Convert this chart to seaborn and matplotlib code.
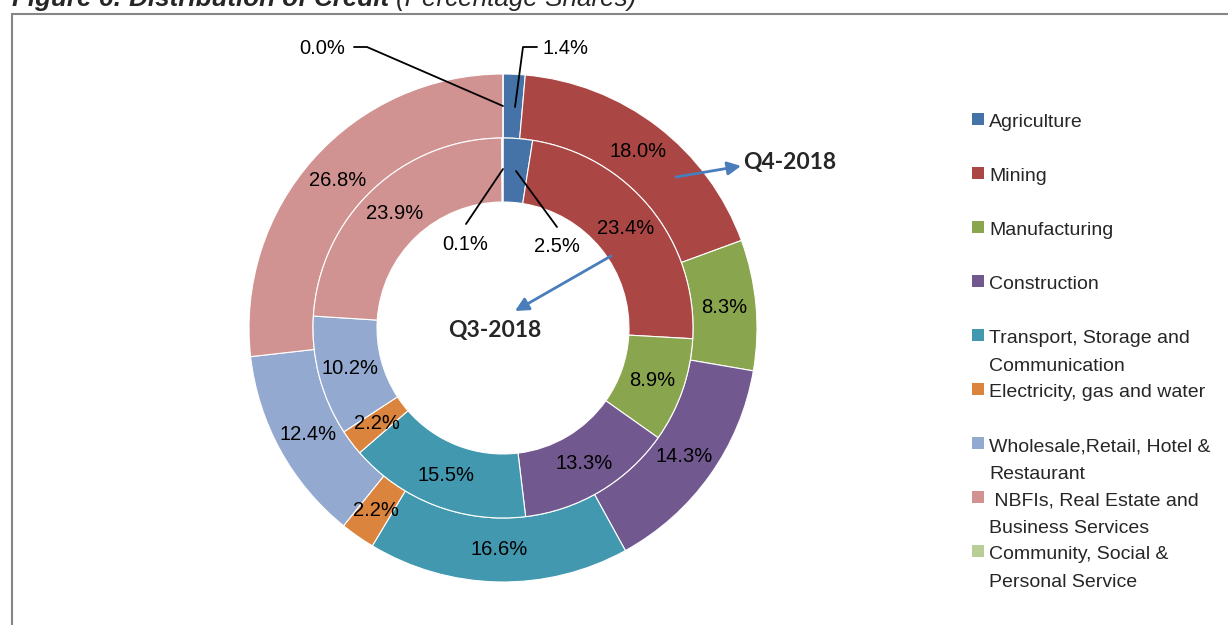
import numpy as np
import seaborn as sns
import matplotlib.pyplot as plt
from matplotlib.patches import Rectangle
from matplotlib.lines import Line2D

# data: credit shares by sector (%)
sectors = ['Agriculture', 'Mining', 'Manufacturing', 'Construction',
           'Transport, Storage and\nCommunication', 'Electricity, gas and water',
           'Wholesale,Retail, Hotel &\nRestaurant', ' NBFIs, Real Estate and\nBusiness Services',
           'Community, Social &\nPersonal Service']
q4_2018 = [1.4, 18.0, 8.3, 14.3, 16.6, 2.2, 12.4, 26.8, 0.0]
q3_2018 = [2.5, 23.4, 8.9, 13.3, 15.5, 2.2, 10.2, 23.9, 0.1]
sector_colors = ['#4572A7', '#AA4643', '#89A54E', '#71588F', '#4198AF',
                 '#DB843D', '#93A9CF', '#D19392', '#B9CD96']

sns.set_theme(style='white')
plt.rcParams['font.family'] = ['Liberation Sans', 'DejaVu Sans']
palette = sns.color_palette(sector_colors)

W, H = 1228, 625
CX, CY, R = 503, 328, 254   # pie centre / radius in pixels
FS = 14.5


def to_data(px, py):
    return ((px - CX) / R, (CY - py) / R)


fig = plt.figure(figsize=(W / 100, H / 100), dpi=100)
half = 290
ax = fig.add_axes([(CX - half) / W, (H - CY - half) / H, 2 * half / W, 2 * half / H])

ring = 0.252
wp = dict(width=ring, edgecolor='white', linewidth=0.8)
ax.pie(q4_2018, radius=1.0, colors=palette, startangle=90, counterclock=False, wedgeprops=wp)
ax.pie(q3_2018, radius=1.0 - ring, colors=palette, startangle=90, counterclock=False, wedgeprops=wp)
ax.set_xlim(-half / R, half / R)
ax.set_ylim(-half / R, half / R)
ax.set_aspect('equal')
ax.axis('off')


def mid_angles(vals):
    c = np.cumsum(vals)
    mids = c - np.array(vals) / 2
    return np.deg2rad(90 - 360 * mids / 100)


label_kw = dict(fontsize=FS, va='center', color='black')

# leader-line labels: (ring, sector index) -> text position, alignment, line points
leaders = {
    ('outer', 8): ((345, 48), 'right', [(354, 47), (367, 47), (503, 106)]),
    ('outer', 0): ((543, 48), 'left', [(537, 47), (523, 47), (515, 107)]),
    ('inner', 8): ((465, 244), 'center', [(466, 224), (503, 169)]),
    ('inner', 0): ((557, 247), 'center', [(557, 227), (516, 171)]),
}

for name, vals, rmid in [('outer', q4_2018, 1.0 - ring / 2), ('inner', q3_2018, 1.0 - 1.5 * ring)]:
    angs = mid_angles(vals)
    for i, (v, a) in enumerate(zip(vals, angs)):
        txt = '{:.1f}%'.format(v)
        if (name, i) in leaders:
            tpos, ha, pts = leaders[(name, i)]
            xs, ys = zip(*[to_data(*p) for p in pts])
            ax.plot(xs, ys, color='black', lw=1.3)
            ax.text(*to_data(*tpos), txt, ha=ha, **label_kw)
        else:
            ax.text(rmid * np.cos(a), rmid * np.sin(a), txt, ha='center', **label_kw)

# series annotations
arrow_kw = dict(arrowstyle='-|>', color='#4A7EBB', lw=2, mutation_scale=20, shrinkA=0, shrinkB=0)
ax.annotate('', xy=to_data(741, 166), xytext=to_data(676, 177), arrowprops=arrow_kw)
ax.annotate('', xy=to_data(515, 311), xytext=to_data(611, 256), arrowprops=arrow_kw)
ax.text(*to_data(790, 163), 'Q4-2018', fontsize=16.5, fontweight='bold', family=['Lato', 'DejaVu Sans'],
        ha='center', va='center')
ax.text(*to_data(495, 331), 'Q3-2018', fontsize=16.5, fontweight='bold', family=['Lato', 'DejaVu Sans'],
        ha='center', va='center')

# legend
for i, (name, col) in enumerate(zip(sectors, palette)):
    y0 = 119 + 54 * i
    fig.add_artist(Rectangle((972 / W, 1 - (y0 + 6) / H), 12 / W, 12 / H,
                             transform=fig.transFigure, facecolor=col, edgecolor='none'))
    for j, line in enumerate(name.split('\n')):
        fig.text(989 / W, 1 - (y0 + 8 + 28 * j) / H, line, fontsize=14, ha='left', va='baseline')

# chart frame (top and left edges visible)
fig.add_artist(Line2D([12 / W, 1.0], [1 - 14 / H, 1 - 14 / H], color='#868686', lw=1.5,
                      transform=fig.transFigure))
fig.add_artist(Line2D([12 / W, 12 / W], [0, 1 - 14 / H], color='#868686', lw=1.5,
                      transform=fig.transFigure))

# title, partly cut by the top edge
t1 = fig.text(12 / W, 1 - 6 / H, 'Figure 6: Distribution of Credit ', fontsize=18.7,
              fontweight='bold', fontstyle='italic', va='baseline')
fig.canvas.draw()
bb = t1.get_window_extent()
fig.text(bb.x1 / W, 1 - 6 / H, '(Percentage Shares)', fontsize=18.7, fontstyle='italic', va='baseline')

fig.savefig('out.png', dpi=100)
